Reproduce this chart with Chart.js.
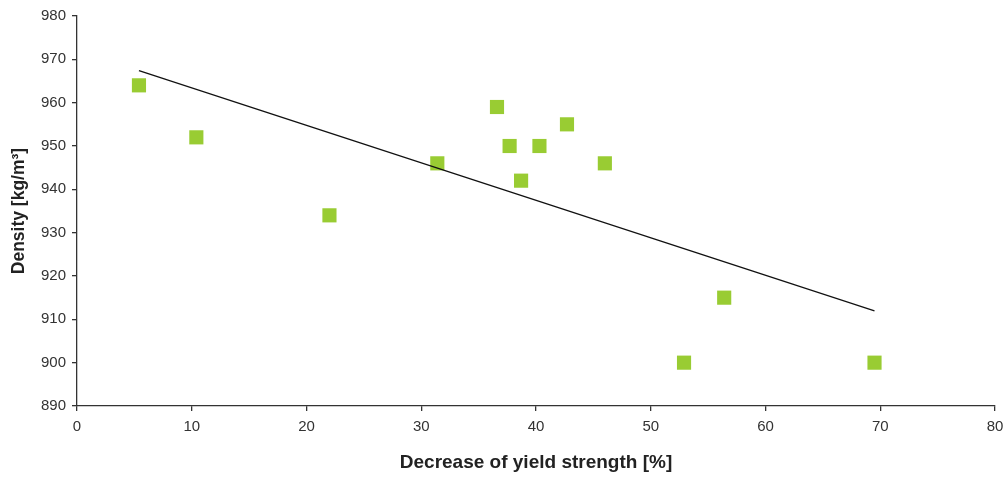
<!DOCTYPE html>
<html>
<head>
<meta charset="utf-8">
<script src="https://cdn.jsdelivr.net/npm/chart.js@4/dist/chart.umd.min.js"></script>
<style>
  html, body { margin: 0; padding: 0; background: #fff; }
  #wrap { width: 1008px; height: 478px; position: relative; }
</style>
</head>
<body>
<div id="wrap"><canvas id="myChart"></canvas></div>
<script>
// measured samples: yield strength drop (%) vs density (kg/m3)
const yieldDrop = [5.4, 10.4, 22.0, 31.4, 36.6, 37.7, 38.7, 40.3, 42.7, 46.0, 52.9, 56.4, 69.5]
const density = [964, 952, 934, 946, 959, 950, 942, 950, 955, 946, 900, 915, 900]

const xTicks = [0, 10, 20, 30, 40, 50, 60, 70, 80]
const yTicks = [890, 900, 910, 920, 930, 940, 950, 960, 970, 980]

const chart = document.getElementById('myChart')

// least squares line through the samples
function trendLine(xs, ys) {
  const n = xs.length
  const mx = xs.reduce((a, b) => a + b, 0) / n
  const my = ys.reduce((a, b) => a + b, 0) / n
  let sxy = 0
  let sxx = 0
  xs.forEach((x, i) => {
    sxy += (x - mx) * (ys[i] - my)
    sxx += (x - mx) * (x - mx)
  })
  const slope = sxy / sxx
  const x0 = Math.min(...xs)
  const x1 = Math.max(...xs)
  return [
    { x: x0, y: my + slope * (x0 - mx) },
    { x: x1, y: my + slope * (x1 - mx) },
  ]
}

const points = yieldDrop.map((x, i) => ({ x, y: density[i] }))

const tickFont = { family: 'Liberation Sans, Arial, sans-serif', size: 15 }
const axisColor = '#333333'

const config = {
  type: 'scatter',
  data: {
    datasets: [
      {
        label: 'Density',
        data: points,
        pointStyle: 'rect',
        pointRadius: 10,
        pointHoverRadius: 10,
        backgroundColor: '#99cc33',
        borderWidth: 0,
        order: 1,
      },
      {
        type: 'line',
        label: 'Trend',
        data: trendLine(yieldDrop, density),
        borderColor: '#111111',
        borderWidth: 1.3,
        pointRadius: 0,
        fill: false,
        order: 0,
      },
    ],
  },
  options: {
    responsive: false,
    animation: false,
    layout: { padding: 0 },
    plugins: { legend: { display: false }, tooltip: { enabled: false } },
    scales: {
      x: {
        type: 'linear',
        min: 0,
        max: 80,
        afterBuildTicks: (scale) => { scale.ticks = xTicks.map((v) => ({ value: v })) },
        afterFit: (scale) => {
          scale.height = 72
          scale.paddingRight = 13
        },
        border: { color: axisColor, width: 1.3 },
        grid: { drawOnChartArea: false, color: axisColor, tickLength: 5, lineWidth: 1.3 },
        ticks: { color: axisColor, font: tickFont, padding: 7, maxRotation: 0 },
        title: {
          display: true,
          text: 'Decrease of yield strength [%]',
          color: '#222',
          font: { family: 'Liberation Sans, Arial, sans-serif', size: 19, weight: 'bold' },
          padding: { top: 14 },
        },
      },
      y: {
        type: 'linear',
        min: 890,
        max: 980,
        afterBuildTicks: (scale) => { scale.ticks = yTicks.map((v) => ({ value: v })) },
        afterFit: (scale) => {
          scale.width = 77
          scale.paddingTop = 16
        },
        border: { color: axisColor, width: 1.3 },
        grid: { drawOnChartArea: false, color: axisColor, tickLength: 5, lineWidth: 1.3 },
        ticks: { color: axisColor, font: tickFont, padding: 6 },
        title: {
          display: true,
          text: 'Density [kg/m³]',
          color: '#222',
          font: { family: 'Liberation Sans, Arial, sans-serif', size: 17.5, weight: 'bold' },
          padding: { top: 9, bottom: 0 },
        },
      },
    },
  },
}

chart.width = 1008
chart.height = 478
new Chart(chart, config)
</script>
</body>
</html>
